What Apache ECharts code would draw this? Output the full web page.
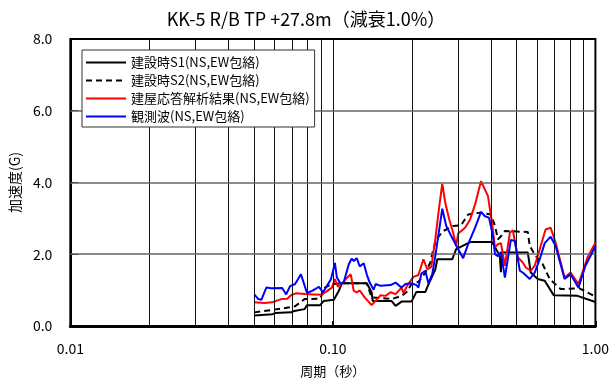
<!DOCTYPE html>
<html>
<head>
<meta charset="utf-8">
<script src="https://cdn.jsdelivr.net/npm/echarts@6/dist/echarts.min.js"></script>
<style>
  html, body { margin: 0; padding: 0; background: #fff; }
  #chart { width: 612px; height: 383px; }
</style>
</head>
<body>
<div id="chart"></div>
<script>
// Response spectra, KK-5 R/B TP +27.8m, damping 1.0%
const seriesNames = [
  '建設時S1(NS,EW包絡)',
  '建設時S2(NS,EW包絡)',
  '建屋応答解析結果(NS,EW包絡)',
  '観測波(NS,EW包絡)'
];

// 建設時S1 : period (s) / acceleration (G)
const s1Period = [0.0502,0.0589,0.0603,0.0695,0.0713,0.0780,0.0797,0.0894,0.0924,0.1009,0.1054,0.1082,0.1346,0.1405,0.1418,0.1673,0.1733,0.1826,0.1993,0.2081,0.2251,0.2310,0.2456,0.2499,0.2848,0.2949,0.3332,0.4037,0.4254,0.4329,0.4367,0.4405,0.5526,0.5673,0.6030,0.6411,0.6933,0.8546,1.0];
const s1Accel  = [0.29,0.33,0.36,0.38,0.42,0.47,0.58,0.58,0.70,0.73,0.98,1.19,1.19,0.94,0.70,0.70,0.56,0.68,0.68,0.95,0.95,1.15,1.58,1.86,1.86,2.14,2.34,2.34,2.05,1.91,1.50,2.05,2.05,1.49,1.31,1.26,0.86,0.84,0.67];

// 建設時S2
const s2Period = [0.0502,0.0589,0.0683,0.0718,0.0780,0.0894,0.0933,0.0991,0.1082,0.1346,0.1405,0.1676,0.1826,0.1907,0.1993,0.2118,0.2251,0.2351,0.2413,0.2478,0.2634,0.2873,0.3080,0.3275,0.3636,0.4002,0.4144,0.4254,0.4367,0.4522,0.5526,0.5624,0.5927,0.6300,0.6696,0.7367,0.8697,1.0];
const s2Accel  = [0.38,0.45,0.52,0.55,0.75,0.76,1.07,1.17,1.19,1.19,0.80,0.75,0.84,0.94,1.17,1.23,1.49,1.77,2.14,2.42,2.65,2.79,2.81,3.11,3.16,3.11,2.79,2.42,2.50,2.65,2.62,2.23,1.95,1.72,1.31,1.03,1.05,0.82];

// 建屋応答解析結果
const anPeriod = [0.0502,0.0548,0.0587,0.0635,0.0670,0.0693,0.0724,0.0783,0.0847,0.0901,0.0941,0.0991,0.1018,0.1045,0.1082,0.1120,0.1170,0.1201,0.1233,0.1266,0.1322,0.1405,0.1455,0.1520,0.1588,0.1659,0.1733,0.1826,0.1858,0.1924,0.2028,0.2118,0.2212,0.2290,0.2371,0.2456,0.2543,0.2611,0.2679,0.2775,0.2873,0.2949,0.3001,0.3190,0.3332,0.3481,0.3668,0.3898,0.4037,0.4144,0.4254,0.4367,0.4522,0.4724,0.4849,0.5065,0.5290,0.5431,0.5673,0.5874,0.6136,0.6459,0.6754,0.7056,0.7631,0.8041,0.8621,0.9327,1.0];
const anAccel  = [0.66,0.64,0.66,0.75,0.76,0.86,0.91,0.89,0.88,0.87,0.95,1.07,1.31,1.10,1.17,1.31,1.44,0.98,0.94,0.99,0.80,0.58,0.70,0.86,0.84,0.94,0.89,1.07,0.92,1.14,1.37,1.42,1.86,1.58,1.65,2.42,3.34,3.97,3.44,2.97,2.60,2.23,2.58,2.74,2.97,3.39,4.04,3.62,2.88,2.19,2.28,2.31,1.68,2.60,2.67,1.91,1.77,1.63,1.54,1.68,2.14,2.69,2.74,2.32,1.35,1.49,1.17,1.91,2.32];

// 観測波
const obPeriod = [0.0502,0.0520,0.0534,0.0558,0.0582,0.0641,0.0664,0.0687,0.0718,0.0756,0.0797,0.0833,0.0885,0.0917,0.0983,0.1018,0.1036,0.1072,0.1101,0.1150,0.1180,0.1201,0.1233,0.1266,0.1311,0.1346,0.1381,0.1430,0.1455,0.1520,0.1659,0.1733,0.1826,0.1891,0.1993,0.2081,0.2118,0.2174,0.2251,0.2310,0.2392,0.2456,0.2521,0.2611,0.2703,0.2824,0.3001,0.3135,0.3275,0.3481,0.3668,0.3797,0.3933,0.4072,0.4144,0.4254,0.4367,0.4522,0.4764,0.4934,0.5154,0.5290,0.5623,0.5874,0.6136,0.6411,0.6754,0.7056,0.7631,0.8041,0.8621,0.9165,0.9574,1.0];
const obAccel  = [0.88,0.75,0.73,1.07,1.05,1.06,0.88,1.11,1.17,1.44,0.92,0.98,1.09,0.94,1.30,1.76,1.35,1.17,1.23,1.72,1.88,1.81,1.89,1.66,1.75,1.44,1.21,1.01,1.17,1.12,1.14,1.21,1.07,1.17,1.19,1.14,1.07,1.46,1.54,1.19,1.45,1.95,2.51,3.27,2.79,2.51,2.14,1.89,2.28,2.74,3.18,3.06,3.02,2.51,2.00,1.95,2.06,1.35,2.40,2.37,1.54,1.49,1.31,1.49,1.86,2.31,2.49,2.23,1.31,1.44,1.07,1.68,1.95,2.23];

// Grid lines: log-decade subdivisions and acceleration levels
const periodGrid = [0.02,0.03,0.04,0.05,0.06,0.07,0.08,0.09,0.1,0.2,0.3,0.4,0.5,0.6,0.7,0.8,0.9];
const accelGrid = [2, 4, 6];

const zip = (xs, ys) => xs.map((x, i) => [x, ys[i]]);
const font = '"Noto Sans CJK JP", "Liberation Sans", sans-serif';

const chart = echarts.init(document.getElementById('chart'), null, { renderer: 'canvas' });

const lineSeries = (name, period, accel, color, type, z) => ({
  name,
  type: 'line',
  data: zip(period, accel),
  symbol: 'none',
  showSymbol: false,
  z,
  lineStyle: { color, width: 2, type },
  itemStyle: { color },
  animation: false
});

chart.setOption({
  animation: false,
  title: {
    text: 'KK-5 R/B TP +27.8m（減衰1.0%）',
    left: 'center',
    top: 5,
    textStyle: { fontFamily: font, fontSize: 18, fontWeight: 'normal', color: '#000' }
  },
  grid: {
    left: 70, right: 14, top: 39, bottom: 56,
    show: true, borderColor: '#000', borderWidth: 2, backgroundColor: '#fff'
  },
  legend: {
    data: seriesNames,
    orient: 'vertical',
    left: 82, top: 50,
    itemWidth: 40, itemHeight: 14, itemGap: 5,
    padding: [6, 5, 4, 3],
    backgroundColor: '#fff',
    borderColor: '#333', borderWidth: 1,
    itemStyle: { opacity: 0 },
    textStyle: { fontFamily: font, fontSize: 13, color: '#000' },
    z: 10
  },
  xAxis: {
    type: 'log', logBase: 10, min: 0.01, max: 1,
    name: '周期（秒）', nameLocation: 'middle', nameGap: 39,
    nameTextStyle: { fontFamily: font, fontSize: 13, color: '#000' },
    axisLine: { lineStyle: { color: '#000', width: 3 } },
    axisTick: { inside: true, length: 5, lineStyle: { color: '#000', width: 2 } },
    axisLabel: { fontFamily: font, fontSize: 14, color: '#000', margin: 16, formatter: v => Number(v).toFixed(2) },
    splitLine: { show: false }
  },
  yAxis: {
    type: 'value', min: 0, max: 8, interval: 2,
    name: '加速度(G)', nameLocation: 'middle', nameGap: 43, nameRotate: 90,
    nameTextStyle: { fontFamily: font, fontSize: 14, color: '#000' },
    axisLine: { show: true, lineStyle: { color: '#000', width: 2 } },
    axisTick: { show: true, inside: true, length: 8, lineStyle: { color: '#000' } },
    axisLabel: { fontFamily: font, fontSize: 14, color: '#000', margin: 18, formatter: v => v.toFixed(1) },
    splitLine: { show: false }
  },
  series: [
    {
      name: 'grid',
      type: 'line',
      data: [],
      z: 1,
      silent: true,
      markLine: {
        silent: true,
        symbol: 'none',
        label: { show: false },
        animation: false,
        data: [
          ...periodGrid.map(p => ({ xAxis: p, lineStyle: { color: '#111', width: 1, type: 'solid' } })),
          ...accelGrid.map(a => ({ yAxis: a, lineStyle: { color: '#666', width: 1.5, type: 'solid' } }))
        ]
      }
    },
    lineSeries(seriesNames[0], s1Period, s1Accel, '#000000', 'solid', 3),
    lineSeries(seriesNames[1], s2Period, s2Accel, '#000000', [6, 4], 3),
    lineSeries(seriesNames[2], anPeriod, anAccel, '#ff0000', 'solid', 4),
    lineSeries(seriesNames[3], obPeriod, obAccel, '#0000ff', 'solid', 5)
  ]
});
</script>
</body>
</html>
